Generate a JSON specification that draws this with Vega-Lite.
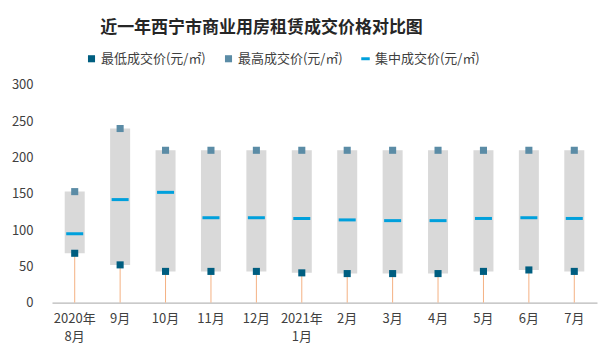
{
  "$schema": "https://vega.github.io/schema/vega-lite/v6.json",
  "width": 545,
  "height": 217.6,
  "autosize": {"type": "none"},
  "padding": {"left": 52, "top": 85, "right": 19, "bottom": 60},
  "background": "white",
  "title": {
    "text": "近一年西宁市商业用房租赁成交价格对比图",
    "font": "Noto Sans CJK SC",
    "fontSize": 17,
    "fontWeight": "bold",
    "color": "#262626",
    "anchor": "middle",
    "dx": -63,
    "offset": 15
  },
  "config": {
    "view": {"stroke": null},
    "font": "Noto Sans CJK SC",
    "axisY": {
      "title": null,
      "grid": false,
      "domain": false,
      "ticks": false,
      "tickSize": 0,
      "labelPadding": 19,
      "labelColor": "#404040",
      "labelFont": "Noto Sans CJK SC",
      "labelFontSize": 13,
      "labelOverlap": false
    }
  },
  "data": {
    "values": [
      {"month": "2020年8月", "min": 68, "max": 153, "mid": 95},
      {"month": "9月", "min": 52, "max": 240, "mid": 142},
      {"month": "10月", "min": 43, "max": 210, "mid": 152},
      {"month": "11月", "min": 43, "max": 210, "mid": 117},
      {"month": "12月", "min": 43, "max": 210, "mid": 117},
      {"month": "2021年1月", "min": 41, "max": 210, "mid": 116},
      {"month": "2月", "min": 40, "max": 210, "mid": 114},
      {"month": "3月", "min": 40, "max": 210, "mid": 113},
      {"month": "4月", "min": 40, "max": 210, "mid": 113},
      {"month": "5月", "min": 43, "max": 210, "mid": 116},
      {"month": "6月", "min": 45, "max": 210, "mid": 117},
      {"month": "7月", "min": 43, "max": 210, "mid": 116}
    ]
  },
  "encoding": {
    "x": {
      "field": "month",
      "type": "nominal",
      "sort": null,
      "scale": {"paddingInner": 0.5, "paddingOuter": 0.25},
      "axis": {
        "title": null,
        "labelAngle": 0,
        "ticks": false,
        "tickSize": 0,
        "domainColor": "#A6A6A6",
        "labelColor": "#404040",
        "labelFont": "Noto Sans CJK SC",
        "labelFontSize": 13,
        "labelPadding": 10,
        "labelLineHeight": 18,
        "labelBaseline": "top",
        "labelExpr": "datum.value == '2020年8月' ? ['2020年', '8月'] : datum.value == '2021年1月' ? ['2021年', '1月'] : datum.value"
      }
    }
  },
  "layer": [
    {
      "mark": {"type": "rule", "color": "#F4B183", "strokeWidth": 1},
      "encoding": {
        "y": {
          "field": "min",
          "type": "quantitative",
          "scale": {"domain": [0, 300], "nice": false},
          "axis": {"values": [0, 50, 100, 150, 200, 250, 300]}
        },
        "y2": {"datum": 0}
      }
    },
    {
      "mark": {"type": "bar", "color": "#D9D9D9", "size": 20},
      "encoding": {
        "y": {"field": "min", "type": "quantitative", "axis": {"values": [0, 50, 100, 150, 200, 250, 300]}},
        "y2": {"field": "max"}
      }
    },
    {
      "mark": {"type": "tick", "thickness": 3, "size": 17, "opacity": 1, "color": "#00A0DC"},
      "encoding": {
        "y": {"field": "mid", "type": "quantitative", "axis": {"values": [0, 50, 100, 150, 200, 250, 300]}}
      }
    },
    {
      "transform": [{"fold": ["min", "max"], "as": ["key", "value"]}],
      "mark": {"type": "point", "filled": true, "opacity": 1, "size": 50},
      "encoding": {
        "y": {"field": "value", "type": "quantitative", "axis": {"values": [0, 50, 100, 150, 200, 250, 300]}},
        "color": {
          "field": "key",
          "type": "nominal",
          "scale": {"domain": ["min", "max", "mid"], "range": ["#005E80", "#5B8CA6", "#00A0DC"]},
          "legend": {
            "title": null,
            "orient": "none",
            "direction": "horizontal",
            "legendX": 33,
            "legendY": -33,
            "symbolSize": 50,
            "symbolOpacity": 1,
            "columnPadding": 15,
            "labelOffset": 3,
            "labelFont": "Noto Sans CJK SC",
            "labelFontSize": 13,
            "labelColor": "#404040",
            "labelExpr": "datum.value == 'min' ? '最低成交价(元/㎡)' : datum.value == 'max' ? '最高成交价(元/㎡)' : '集中成交价(元/㎡)'"
          }
        },
        "shape": {
          "field": "key",
          "type": "nominal",
          "scale": {"domain": ["min", "max", "mid"], "range": ["square", "square", "M-1.2,-0.42H1.2V0.42H-1.2Z"]}
        }
      }
    }
  ]
}
